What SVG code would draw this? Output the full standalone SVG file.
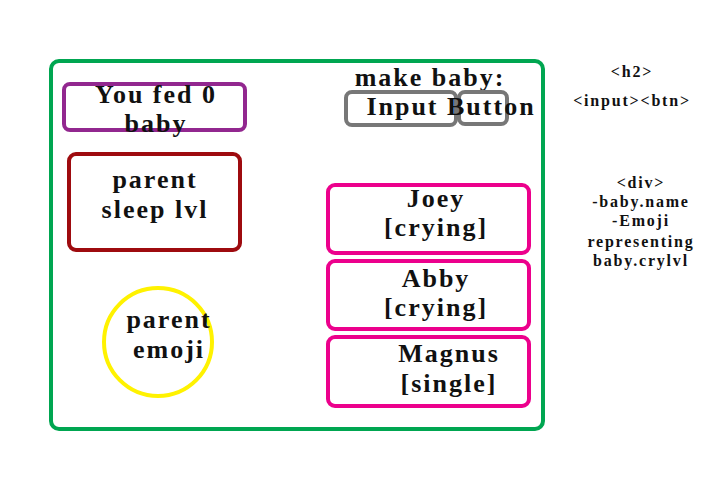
<svg xmlns="http://www.w3.org/2000/svg" width="720" height="480" viewBox="0 0 720 480">
<style>
.t{font-family:"Liberation Serif","DejaVu Serif",serif;font-weight:bold;font-size:26px;letter-spacing:2px;fill:#111;text-anchor:middle}
.s{font-family:"Liberation Serif","DejaVu Serif",serif;font-weight:bold;font-size:16px;letter-spacing:1.8px;fill:#111;text-anchor:middle}
.b{fill:none;stroke-width:4}
</style>
<rect width="720" height="480" fill="#fff"/>
<g id="page"><rect class="b" x="51" y="61" width="492" height="368" rx="8" stroke="#00a651"/></g>
<g id="fed"><rect class="b" x="64" y="84" width="181" height="46" rx="6" stroke="#92278f"/>
<text class="t" x="156" y="103">You fed 0</text><text class="t" x="156" y="132">baby</text></g>
<g id="sleep"><rect class="b" x="69" y="154" width="171" height="96" rx="7" stroke="#9e0b0f"/>
<text class="t" x="155" y="188">parent</text><text class="t" x="155" y="218">sleep lvl</text></g>
<g id="emoji"><circle class="b" cx="158" cy="342" r="54" stroke="#fff200"/>
<text class="t" x="169" y="328">parent</text><text class="t" x="169" y="358">emoji</text></g>
<g id="h2"><text class="t" x="430" y="86">make baby:</text></g>
<g id="input"><rect class="b" x="346" y="92" width="110" height="33" rx="6" stroke="#777"/></g>
<g id="button"><rect class="b" x="459" y="92" width="48" height="32" rx="6" stroke="#777"/></g>
<text class="t" x="451" y="115">Input Button</text>
<g id="joey"><rect class="b" x="328" y="185" width="201" height="68" rx="7" stroke="#ec008c"/>
<text class="t" x="436" y="207">Joey</text><text class="t" x="436" y="236">[crying]</text></g>
<g id="abby"><rect class="b" x="328" y="261" width="201" height="68" rx="7" stroke="#ec008c"/>
<text class="t" x="436" y="287">Abby</text><text class="t" x="436" y="316">[crying]</text></g>
<g id="magnus"><rect class="b" x="328" y="337" width="201" height="69" rx="7" stroke="#ec008c"/>
<text class="t" x="449" y="362">Magnus</text><text class="t" x="449" y="392">[single]</text></g>
<g id="notes">
<text class="s" x="632" y="77">&lt;h2&gt;</text>
<text class="s" x="632" y="106">&lt;input&gt;&lt;btn&gt;</text>
<text class="s" x="641" y="188">&lt;div&gt;</text>
<text class="s" x="641" y="207">-baby.name</text>
<text class="s" x="641" y="226">-Emoji</text>
<text class="s" x="641" y="247">representing</text>
<text class="s" x="641" y="266">baby.crylvl</text>
</g>
</svg>
